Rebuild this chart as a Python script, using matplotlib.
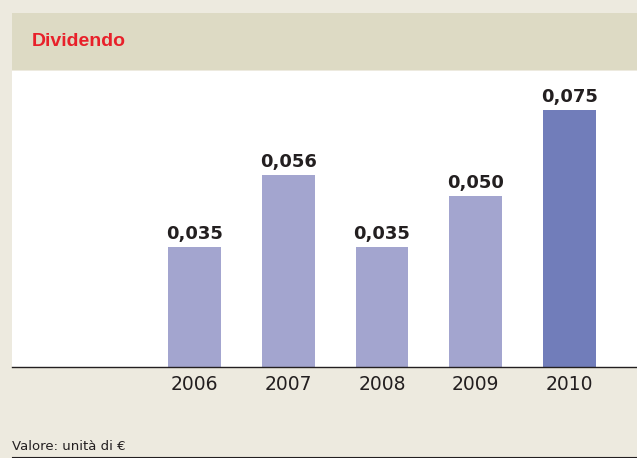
import numpy as np
import matplotlib.pyplot as plt
from matplotlib.patches import Rectangle

# dati
anni = ["2006", "2007", "2008", "2009", "2010"]
dividendo = [0.035, 0.056, 0.035, 0.050, 0.075]
etichette = ["0,035", "0,056", "0,035", "0,050", "0,075"]
colori = ["#a3a5cf", "#a3a5cf", "#a3a5cf", "#a3a5cf", "#717dba"]

W, H = 637, 458
fig = plt.figure(figsize=(W / 100, H / 100), dpi=100)
fig.patch.set_facecolor("#edeadf")

# fascia del titolo
fig.patches.append(Rectangle((12 / W, 1 - 70 / H), 1, 57 / H, transform=fig.transFigure,
                             facecolor="#dddac4", edgecolor="none"))
fig.text(32 / W, 1 - 41 / H, "Dividendo", color="#e8202a", fontsize=14,
         fontweight="bold", va="center", ha="left", family="Liberation Sans")

# area del grafico
ax = fig.add_axes([12 / W, 1 - 367 / H, 1 - 12 / W, 296 / H])
ax.set_facecolor("white")
x = np.arange(len(anni))
ax.bar(x, dividendo, width=0.565, color=colori)
for xi, v, lab in zip(x, dividendo, etichette):
    ax.text(xi, v + 0.0012, lab, ha="center", va="bottom", fontsize=13,
            fontweight="heavy", color="#231f20")

ax.set_xlim(-1.947, 4.72)
ax.set_ylim(0, 0.0864)
ax.set_xticks(x)
ax.set_xticklabels(anni, fontsize=13.5, color="#231f20")
ax.tick_params(axis="x", length=0, pad=6)
ax.set_yticks([])
for s in ["top", "right", "left"]:
    ax.spines[s].set_visible(False)
ax.spines["bottom"].set_color("#231f20")
ax.spines["bottom"].set_linewidth(1.0)

# nota in basso
fig.text(12 / W, 1 - 447 / H, "Valore: unità di €", fontsize=9.5, color="#231f20",
         va="center", ha="left")
fig.add_artist(plt.Line2D([12 / W, 1], [1 - 456.5 / H, 1 - 456.5 / H],
                          transform=fig.transFigure, color="#231f20", linewidth=0.8))

fig.savefig("out.png", dpi=100, facecolor=fig.get_facecolor())
